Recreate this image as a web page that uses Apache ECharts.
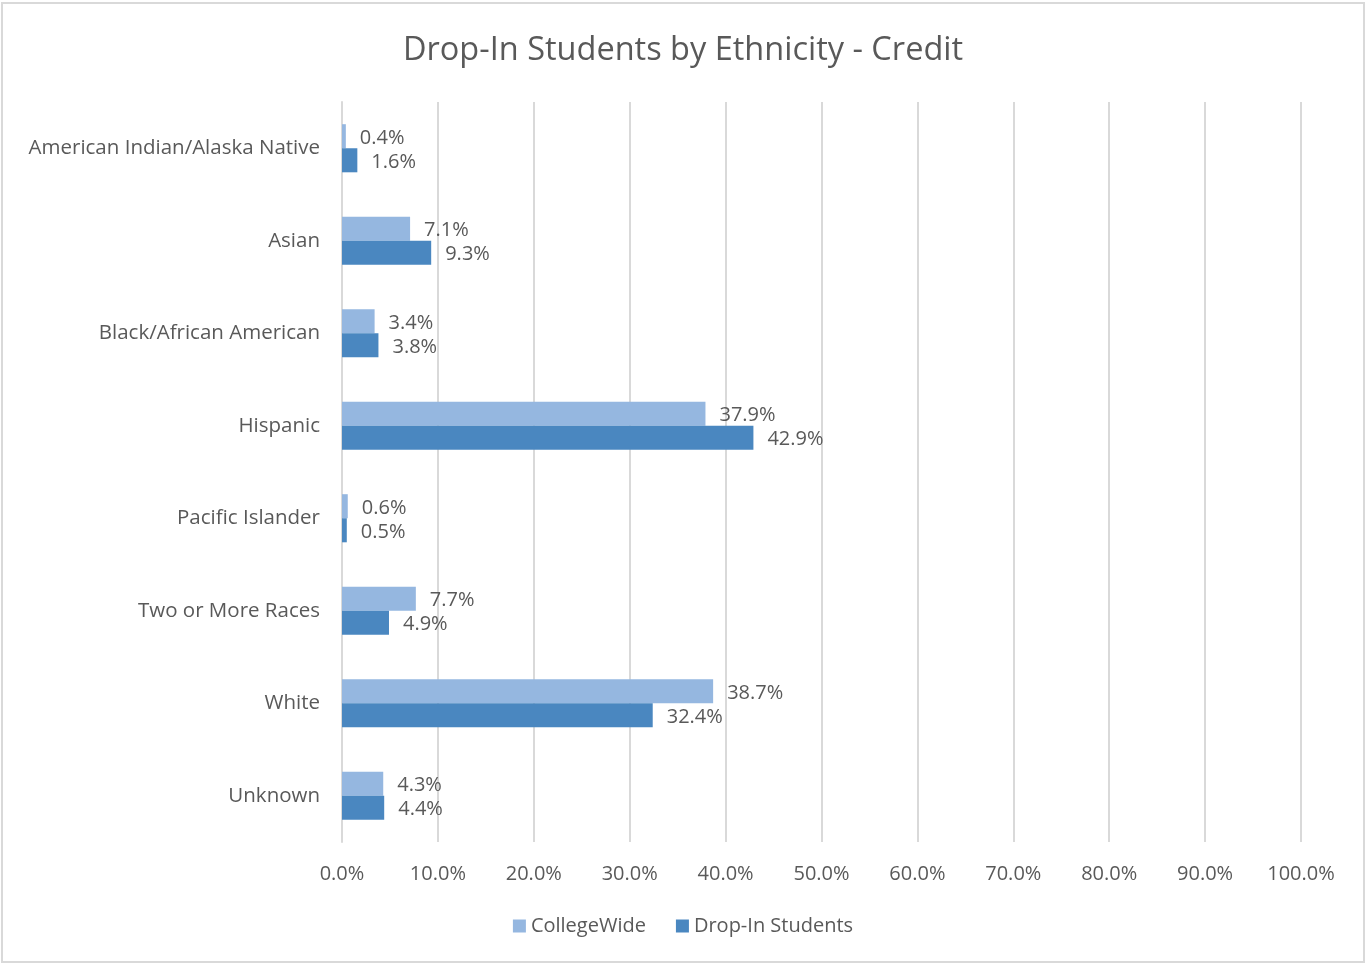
<!DOCTYPE html>
<html>
<head>
<meta charset="utf-8">
<script src="https://cdn.jsdelivr.net/npm/echarts@6/dist/echarts.min.js"></script>
<style>
  html, body { margin: 0; padding: 0; background: #fff; }
  body { padding: 2px 0 0 1px; }
  #main { width: 1364px; height: 961px; box-sizing: border-box; border: 2px solid #d9d9d9; }
</style>
</head>
<body>
<div id="main"></div>
<script>
var categories = ['American Indian/Alaska Native', 'Asian', 'Black/African American', 'Hispanic',
  'Pacific Islander', 'Two or More Races', 'White', 'Unknown'];
var collegeWide = [0.4, 7.1, 3.4, 37.9, 0.6, 7.7, 38.7, 4.3];
var dropIn = [1.6, 9.3, 3.8, 42.9, 0.5, 4.9, 32.4, 4.4];

var textColor = '#595959';
var font = 'Open Sans';

var chart = echarts.init(document.getElementById('main'));
var labelOpt = {
  show: true,
  position: 'right',
  distance: 14,
  color: textColor,
  fontFamily: font,
  fontSize: 20,
  offset: [0, 2],
  formatter: function (p) { return p.value.toFixed(1) + '%'; }
};
var option = {
  backgroundColor: '#fff',
  animation: false,
  title: {
    text: 'Drop-In Students by Ethnicity - Credit',
    left: 'center',
    top: 25,
    textStyle: { color: textColor, fontFamily: font, fontSize: 32.5, fontWeight: 'normal' }
  },
  legend: {
    bottom: 20,
    left: 'center',
    itemWidth: 13,
    itemHeight: 13,
    itemGap: 30,
    icon: 'rect',
    textStyle: { color: textColor, fontFamily: font, fontSize: 20 },
    data: ['CollegeWide', 'Drop-In Students']
  },
  grid: { left: 339, right: 62, top: 98, bottom: 119 },
  xAxis: {
    type: 'value',
    min: 0,
    max: 100,
    interval: 10,
    axisLine: { show: false },
    axisTick: { show: false },
    splitLine: { lineStyle: { color: '#d9d9d9', width: 2 } },
    axisLabel: {
      color: textColor, fontFamily: font, fontSize: 20, margin: 22,
      formatter: function (v) { return v.toFixed(1) + '%'; }
    }
  },
  yAxis: {
    type: 'category',
    inverse: true,
    data: categories,
    axisLine: { show: true, lineStyle: { color: '#d9d9d9', width: 2 } },
    axisTick: { show: false },
    axisLabel: { color: textColor, fontFamily: font, fontSize: 20.5, margin: 22 }
  },
  series: [
    {
      name: 'CollegeWide',
      type: 'bar',
      data: collegeWide,
      itemStyle: { color: '#95B7E0' },
      barGap: '0%',
      barCategoryGap: '48%',
      label: labelOpt
    },
    {
      name: 'Drop-In Students',
      type: 'bar',
      data: dropIn,
      itemStyle: { color: '#4A87C0' },
      label: labelOpt
    }
  ]
};
chart.setOption(option);
</script>
</body>
</html>
